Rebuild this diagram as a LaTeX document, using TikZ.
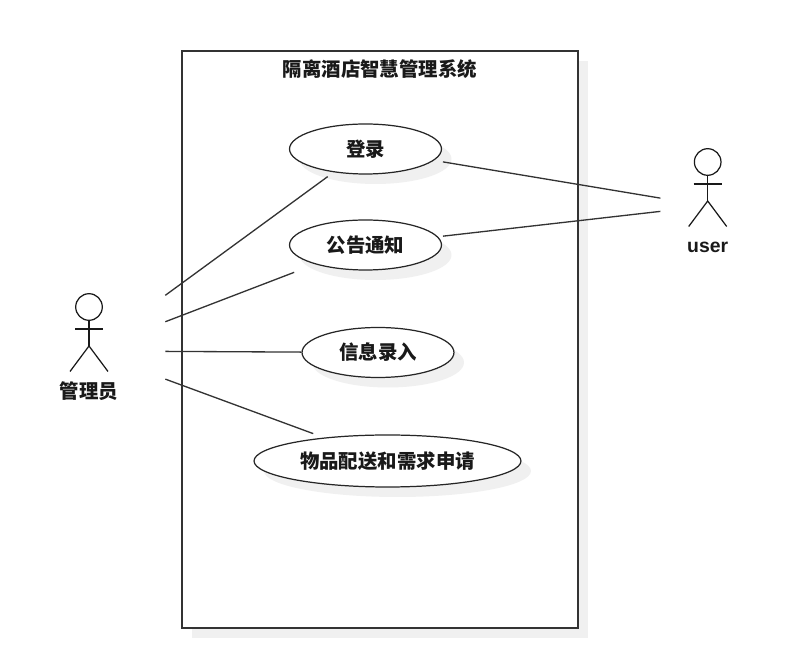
\documentclass[tikz,border=0pt]{standalone}
\usepackage{fontspec}
\setmainfont{Liberation Sans}
\newfontfamily\cjk{Noto Sans CJK SC}
\usetikzlibrary{shapes.geometric,shadows}
\tikzset{
    label text/.style={font=\fontsize{11.05}{13}\selectfont\bfseries\cjk, text=black!90},
    usecase/.style={draw=black!85, fill=white, ellipse, inner sep=0pt, line width=0.7pt, minimum width=3.04cm, minimum height=1cm,
        label text, drop shadow={shadow xshift=0.2cm, shadow yshift=-0.2cm, fill=black!6, opacity=1}},
    actor/.style={rectangle, inner sep=0pt, minimum height=2.4cm},
    link/.style={black!80, line width=0.75pt},
}
\newcommand{\stickman}[1]{
    \begin{scope}[shift={(#1)}, black!90, line width=0.7pt]
        \draw (0,-44) circle (13.3);
        \draw (0,-30.7) -- (0,-5);
        \draw (-14,-22) -- (14,-22);
        \draw (-19,20.5) -- (0,-5) -- (19,20.5);
    \end{scope}
}
\begin{document}
\begin{tikzpicture}[x=0.02cm, y=-0.02cm]
    \useasboundingbox (0,0) rectangle (789,658);
    \fill[white] (0,0) rectangle (789,658);

    \fill[black!6] (192,61) rectangle (588,638);
    \node[draw=black!80, fill=white, thick, rectangle, inner sep=0pt, minimum width=7.92cm, minimum height=11.54cm] (system) at (380,339.5) {};
    \node[label text] (title) at (380,69) {隔离酒店智慧管理系统};

    \node[usecase] (login) at (365.5,149) {登录};
    \node[usecase] (notice) at (365.5,245) {公告通知};
    \node[usecase] (entry) at (378,352.5) {信息录入};
    \node[usecase, minimum width=5.34cm, minimum height=1.04cm] (delivery) at (387.5,461) {物品配送和需求申请};

    \node[actor, minimum width=3.04cm] (admin) at (89,351) {};
    \node[actor, minimum width=1.88cm] (user) at (707.7,206) {};
    \stickman{admin}
    \stickman{user}
    \node[label text] (adminname) at (89,391) {管理员};
    \node[label text] (username) at (707.7,247.5) {\fontspec{Liberation Sans}user};

    \draw[link, shorten >=0.146cm] (admin) -- (login);
    \draw[link, shorten >=0.45cm] (admin) -- (notice);
    \draw[link] (admin) -- (entry);
    \draw[link, shorten >=0.228cm] (admin) -- (delivery);
    \draw[link, shorten >=0.18cm] (user) -- (login);
    \draw[link, shorten >=0.1cm] (user) -- (notice);
\end{tikzpicture}
\end{document}
